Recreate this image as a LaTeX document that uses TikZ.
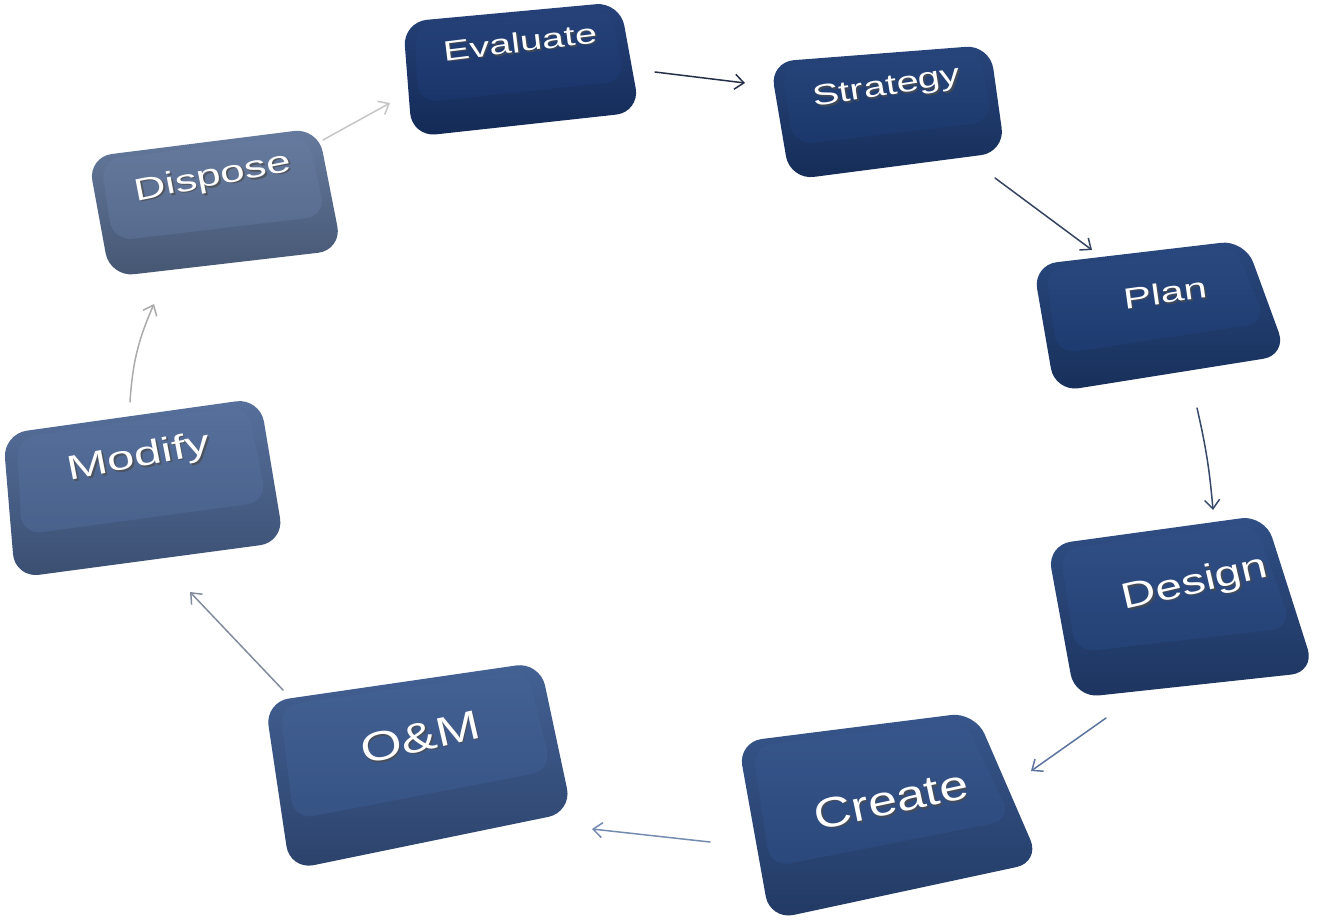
\documentclass[tikz,border=0pt]{standalone}
\usepackage{fontspec}
\setmainfont{Liberation Sans}
\usetikzlibrary{arrows.meta,calc}

\definecolor{kEval}{HTML}{1A3872}
\definecolor{kStrat}{HTML}{1C3B74}
\definecolor{kPlan}{HTML}{1F3F78}
\definecolor{kDesign}{HTML}{26467F}
\definecolor{kCreate}{HTML}{2D4D85}
\definecolor{kOM}{HTML}{3A598F}
\definecolor{kModify}{HTML}{4E6997}
\definecolor{kDispose}{HTML}{5D7399}

\tikzset{
  flow/.style={line width=1.5pt, draw=#1, line cap=round,
    -{Straight Barb[length=9pt,width=15pt,line width=1.5pt]}},
  keytext/.style={text=white, inner sep=0pt, anchor=center},
  keyshadow/.style={text=black!70, opacity=0.75, inner sep=0pt, anchor=center}
}

% a tilted key cap: prefix, four outer corners, colour
\newcommand{\keycap}[6]{%
  \coordinate (#1-tl) at #2;
  \coordinate (#1-tr) at #3;
  \coordinate (#1-br) at #4;
  \coordinate (#1-bl) at #5;
  \coordinate (#1-ml) at ($(#1-tl)!0.74!(#1-bl)$);
  \coordinate (#1-mr) at ($(#1-tr)!0.74!(#1-br)$);
  \shade[rounded corners=24pt, top color=#6!95!white, bottom color=#6!75!black]
    (#1-tl) -- (#1-tr) -- (#1-br) -- (#1-bl) -- cycle;
  \shade[rounded corners=20pt, top color=#6!94!white, bottom color=#6, opacity=0.6]
    ($(#1-tl)!0.05!(#1-mr)$) -- ($(#1-tr)!0.05!(#1-ml)$) --
    ($(#1-mr)!0.04!(#1-tl)$) -- ($(#1-ml)!0.04!(#1-tr)$) -- cycle;
}

% embossed white label: name, position, angle, size, stretch, text
\newcommand{\keylabel}[6]{%
  \node[keyshadow, rotate=#3, xscale=#5, font=\fontsize{#4}{#4}\selectfont]
    (#1-sh) at ($#2+(1.6,1.6)$) {#6};
  \node[keytext, rotate=#3, xscale=#5, font=\fontsize{#4}{#4}\selectfont]
    (#1) at #2 {#6};
}

\begin{document}
\begin{tikzpicture}[x=1pt,y=-1pt]
\useasboundingbox[fill=white] (0,0) rectangle (1328,923);

% key caps
\keycap{ev}{(403,22)}{(620,2)}{(640,112)}{(412,137)}{kEval}
\keycap{st}{(770,62)}{(990,45)}{(1005,152)}{(790,180)}{kStrat}
\keycap{pl}{(1033,265)}{(1245,240)}{(1287,355)}{(1055,392)}{kPlan}
\keycap{de}{(1047,545)}{(1265,515)}{(1315,672)}{(1075,698)}{kDesign}
\keycap{cr}{(738,742)}{(975,712)}{(1040,862)}{(770,920)}{kCreate}
\keycap{om}{(265,702)}{(540,662)}{(572,812)}{(290,870)}{kOM}
\keycap{mo}{(3,434)}{(260,398)}{(284,542)}{(15,578)}{kModify}
\keycap{di}{(88,157)}{(318,128)}{(342,250)}{(110,277)}{kDispose}

% labels
\keylabel{evaluate}{(520,42)}{7}{28}{1.42}{Evaluate}
\keylabel{strategy}{(887,88)}{9}{29}{1.38}{Strategy}
\keylabel{plan}{(1165,293)}{8}{29}{1.45}{Plan}
\keylabel{design}{(1195,584)}{13}{36}{1.33}{Design}
\keylabel{create}{(891,800)}{12}{42}{1.24}{Create}
\keylabel{om}{(420,737)}{13}{41}{1.3}{O\&M}
\keylabel{modify}{(139,458)}{11}{34}{1.45}{Modify}
\keylabel{dispose}{(213,178)}{11}{31}{1.42}{Dispose}

% connector ends on the caps
\coordinate (ev-out) at (655,72);   \coordinate (st-in) at (745,83);
\coordinate (st-out) at (995,178);  \coordinate (pl-in) at (1092,250);
\coordinate (pl-out) at (1197,408); \coordinate (de-in) at (1213,510);
\coordinate (de-out) at (1106,718); \coordinate (cr-in) at (1031,771);
\coordinate (cr-out) at (710,842);  \coordinate (om-in) at (592,829);
\coordinate (om-out) at (283,690);  \coordinate (mo-in) at (190,592);
\coordinate (mo-out) at (130,402);  \coordinate (di-in) at (154,304);
\coordinate (di-out) at (323,140);  \coordinate (ev-in) at (390,103);

% the cycle
\draw[flow=black!55!kEval!90!white] (ev-out) -- (st-in);
\draw[flow=black!40!kStrat!85!white] (st-out) -- (pl-in);
\draw[flow=black!35!kPlan!85!white] (pl-out) to[bend left=4] (de-in);
\draw[flow=kDesign!75!white] (de-out) -- (cr-in);
\draw[flow=kCreate!65!white] (cr-out) -- (om-in);
\draw[flow=kOM!40!gray!80!white] (om-out) -- (mo-in);
\draw[flow=gray!65!white] (mo-out) to[bend left=10] (di-in);
\draw[flow=gray!45!white] (di-out) -- (ev-in);
\end{tikzpicture}
\end{document}
